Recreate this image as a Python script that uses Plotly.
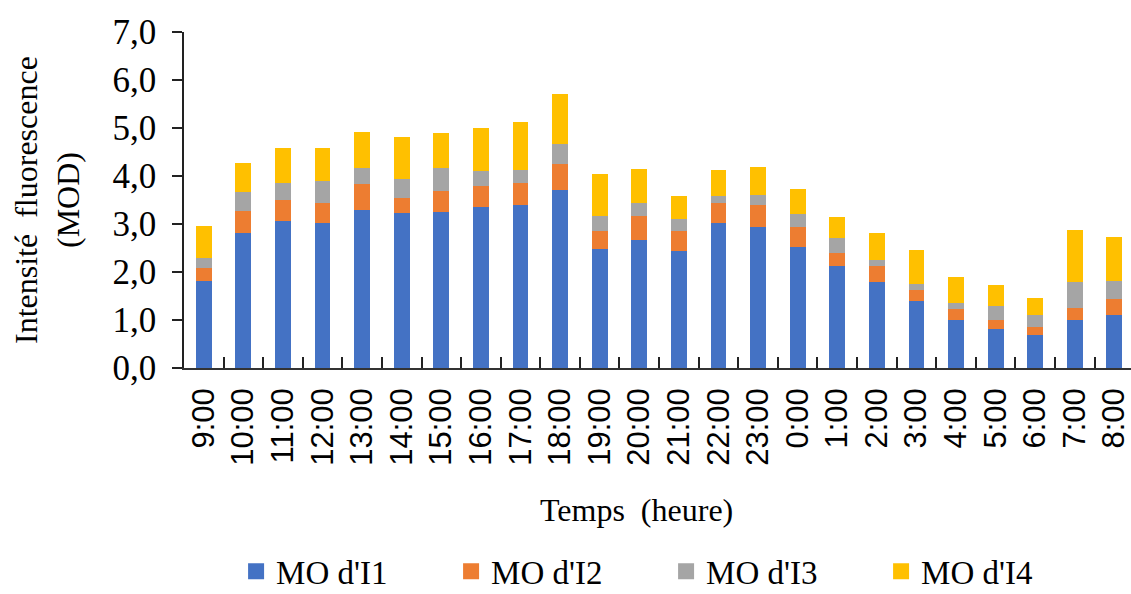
import plotly.graph_objects as go

# Hourly time stamps (24 h campaign)
heures = ["9:00", "10:00", "11:00", "12:00", "13:00", "14:00", "15:00", "16:00",
          "17:00", "18:00", "19:00", "20:00", "21:00", "22:00", "23:00", "0:00",
          "1:00", "2:00", "3:00", "4:00", "5:00", "6:00", "7:00", "8:00"]

# Fluorescence intensity of each organic-matter fraction (stacked)
mo_i1 = [1.82, 2.82, 3.07, 3.02, 3.30, 3.22, 3.25, 3.35, 3.39, 3.71, 2.48, 2.66,
         2.44, 3.02, 2.94, 2.53, 2.13, 1.80, 1.40, 0.99, 0.82, 0.68, 0.99, 1.11]
mo_i2 = [0.26, 0.45, 0.42, 0.42, 0.53, 0.32, 0.43, 0.45, 0.46, 0.54, 0.37, 0.50,
         0.41, 0.42, 0.46, 0.41, 0.26, 0.33, 0.22, 0.24, 0.18, 0.17, 0.27, 0.33]
mo_i3 = [0.22, 0.40, 0.36, 0.46, 0.33, 0.40, 0.48, 0.31, 0.27, 0.41, 0.31, 0.28,
         0.26, 0.14, 0.21, 0.27, 0.32, 0.12, 0.14, 0.12, 0.30, 0.26, 0.54, 0.37]
mo_i4 = [0.65, 0.61, 0.74, 0.69, 0.75, 0.87, 0.74, 0.88, 1.01, 1.05, 0.88, 0.70,
         0.48, 0.55, 0.57, 0.52, 0.43, 0.57, 0.70, 0.55, 0.43, 0.35, 1.07, 0.92]

noms = ["MO d'I1", "MO d'I2", "MO d'I3", "MO d'I4"]
couleurs = ["#4472C4", "#ED7D31", "#A5A5A5", "#FFC000"]
series = [mo_i1, mo_i2, mo_i3, mo_i4]

SERIF = "Liberation Serif, Times New Roman, serif"
SANS = "Liberation Sans, Arial, sans-serif"

fig = go.Figure()
for nom, coul, vals in zip(noms, couleurs, series):
    fig.add_trace(go.Bar(x=heures, y=vals, name=nom, marker_color=coul,
                         marker_line_width=0, showlegend=False))
# legend entries with larger square swatches
for nom, coul in zip(noms, couleurs):
    fig.add_trace(go.Scatter(x=[None], y=[None], mode="markers", name=nom,
                             marker=dict(symbol="square", size=16, color=coul)))

fig.update_layout(
    width=1131, height=594,
    margin=dict(l=184, r=0, t=32, b=226, autoexpand=False),
    barmode="stack", bargap=0.6,
    plot_bgcolor="white", paper_bgcolor="white",
    separators=", ",
    showlegend=True,
    legend=dict(orientation="h", x=0.055, xanchor="left", y=-0.605, yanchor="middle",
                font=dict(family=SERIF, size=33, color="black"),
                entrywidth=170, entrywidthmode="pixels", itemwidth=30,
                traceorder="normal"),
    xaxis=dict(range=[-0.5, 23.42], showline=True, linecolor="#333333", linewidth=1.5,
               ticks="inside", tickson="boundaries", ticklen=11, tickwidth=1.5,
               tickcolor="#222222", tickangle=-90, ticklabelstandoff=6,
               tickfont=dict(family=SANS, size=31, color="black"),
               showgrid=False, zeroline=False, fixedrange=True, automargin=False),
    yaxis=dict(range=[0, 7], dtick=1, tickformat=".1f", showline=True,
               linecolor="#222222", linewidth=1.5, ticks="outside", ticklen=10,
               tickwidth=1.5, tickcolor="#222222", ticklabelstandoff=9,
               tickfont=dict(family=SERIF, size=35, color="black"),
               showgrid=False, zeroline=False, automargin=False),
    annotations=[
        dict(text="Intensité\u00a0 fluorescence", textangle=-90,
             xref="paper", yref="paper", x=(26 - 184) / 947, y=0.5,
             xanchor="center", yanchor="middle", showarrow=False,
             font=dict(family=SERIF, size=32, color="black")),
        dict(text="(MOD)", textangle=-90,
             xref="paper", yref="paper", x=(68 - 184) / 947, y=0.5,
             xanchor="center", yanchor="middle", showarrow=False,
             font=dict(family=SERIF, size=32, color="black")),
        dict(text="Temps\u00a0 (heure)", xref="paper", yref="paper",
             x=0.478, y=-0.4226, xanchor="center", yanchor="middle",
             showarrow=False, font=dict(family=SERIF, size=32, color="black")),
    ],
)

fig.write_html("out.html")
